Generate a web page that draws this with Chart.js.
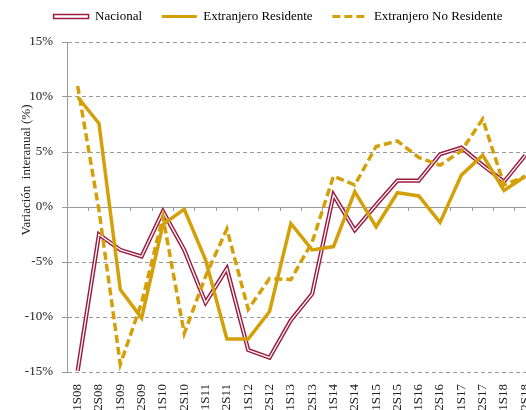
<!DOCTYPE html>
<html>
<head>
<meta charset="utf-8">
<script src="https://cdn.jsdelivr.net/npm/chart.js@4.4.0/dist/chart.umd.min.js"></script>
<style>
  html, body { margin: 0; padding: 0; overflow: hidden; background: #fff; }
  #wrap { width: 576px; height: 410px; }
</style>
</head>
<body>
<div id="wrap"><canvas id="grafico" width="576" height="410"></canvas></div>
<script>
// Semestres (eje X)
const semestres = ['1S08', '2S08', '1S09', '2S09', '1S10', '2S10', '1S11', '2S11', '1S12', '2S12', '1S13',
    '2S13', '1S14', '2S14', '1S15', '2S15', '1S16', '2S16', '1S17', '2S17', '1S18', '2S18'];

// Variacion interanual (%) por tipo de visitante
const nacional = [-14.9, -2.5, -3.9, -4.5, -0.4, -3.9, -8.7, -5.6, -13.0, -13.7, -10.3,
    -7.9, 1.1, -2.1, 0.2, 2.4, 2.4, 4.8, 5.4, 3.8, 2.3, 4.7];
const extResidente = [10.0, 7.6, -7.5, -10.1, -1.6, -0.2, -4.8, -12.0, -12.0, -9.5, -1.5,
    -3.9, -3.6, 1.4, -1.8, 1.3, 1.0, -1.4, 2.9, 4.7, 1.5, 2.8];
const extNoResidente = [11.0, -0.3, -14.3, -8.7, -0.9, -11.5, -6.3, -2.0, -9.3, -6.5, -6.6,
    -3.2, 2.8, 2.0, 5.5, 6.0, 4.5, 3.8, 5.1, 8.0, 2.0, 2.8];

// Escala Y
const yMin = -15;
const yMax = 15;
const yPaso = 5;

const ROJO = '#9c1c40';
const ORO = '#d4a00a';
const GRIS = '#9a9a9a';
const FUENTE = '"Liberation Serif", "Times New Roman", serif';

Chart.defaults.font.family = FUENTE;
Chart.defaults.font.size = 13;
Chart.defaults.color = '#222';

// Titulo del eje Y (desplazado hacia arriba como en el original)
const tituloY = {
    id: 'tituloY',
    afterDraw(chart) {
        const ctx = chart.ctx;
        ctx.save();
        ctx.translate(27, 170);
        ctx.rotate(-Math.PI / 2);
        ctx.font = '13px ' + FUENTE;
        ctx.fillStyle = '#222';
        ctx.textAlign = 'center';
        ctx.textBaseline = 'middle';
        ctx.fillText('Variación  interanual (%)', 0, 0);
        ctx.restore();
    }
};

new Chart(document.getElementById('grafico'), {
    type: 'line',
    data: {
        labels: semestres,
        datasets: [
            {
                label: 'Extranjero Residente',
                data: extResidente,
                xAxisID: 'x',
                borderColor: ORO,
                borderWidth: 3.5,
                order: 1
            },
            {
                label: 'Extranjero No Residente',
                data: extNoResidente,
                xAxisID: 'x',
                borderColor: ORO,
                borderWidth: 3.5,
                borderDash: [8, 4],
                order: 2
            },
            {
                // linea blanca interior para el trazo doble
                label: 'Nacional interior',
                data: nacional,
                xAxisID: 'x',
                borderColor: '#ffffff',
                borderWidth: 1.3,
                order: 3
            },
            {
                label: 'Nacional',
                data: nacional,
                xAxisID: 'x',
                borderColor: ROJO,
                borderWidth: 4.2,
                order: 4
            }
        ]
    },
    options: {
        responsive: false,
        animation: false,
        layout: { padding: { left: 20, right: 40, top: 0, bottom: 0 } },
        elements: {
            point: { radius: 0, hoverRadius: 0 },
            line: { tension: 0, borderCapStyle: 'butt', borderJoinStyle: 'miter' }
        },
        plugins: {
            tooltip: { enabled: false },
            legend: {
                position: 'top',
                labels: {
                    usePointStyle: true,
                    pointStyleWidth: 35,
                    boxHeight: 4,
                    padding: 10,
                    color: '#222',
                    font: { size: 13, family: FUENTE },
                    // espacios al final para separar los elementos como en el original
                    generateLabels: () => [
                        { text: 'Nacional   ', pointStyle: 'rect', fillStyle: '#ffffff', strokeStyle: ROJO,
                          lineWidth: 1.5, lineDash: [], hidden: false, datasetIndex: 3 },
                        { text: 'Extranjero Residente   ', pointStyle: 'line', fillStyle: ORO, strokeStyle: ORO,
                          lineWidth: 3, lineDash: [], hidden: false, datasetIndex: 0 },
                        { text: 'Extranjero No Residente', pointStyle: 'line', fillStyle: ORO, strokeStyle: ORO,
                          lineWidth: 3, lineDash: [8, 4], hidden: false, datasetIndex: 1 }
                    ]
                }
            }
        },
        scales: {
            x: {
                type: 'category',
                position: 'bottom',
                offset: true,
                grid: { display: false },
                border: { display: false },
                ticks: {
                    autoSkip: false,
                    maxRotation: 90,
                    minRotation: 90,
                    padding: 4,
                    color: '#222',
                    font: { size: 13 }
                },
                afterFit: s => { s.height = 38; }
            },
            // eje invisible para dejar aire entre leyenda y grafico
            xTop: {
                type: 'category',
                position: 'top',
                offset: true,
                ticks: { display: false },
                grid: { display: false },
                border: { display: false },
                afterFit: s => { s.height = 9; }
            },
            // marcas del eje en el 0%
            xCero: {
                type: 'category',
                position: { y: 0 },
                offset: true,
                ticks: { display: false },
                border: { display: false },
                grid: {
                    offset: true,
                    drawOnChartArea: false,
                    drawTicks: true,
                    tickLength: 4,
                    tickColor: GRIS,
                    color: GRIS
                }
            },
            y: {
                min: yMin,
                max: yMax,
                ticks: {
                    stepSize: yPaso,
                    padding: 9,
                    color: '#222',
                    font: { size: 13 },
                    callback: v => v + '%'
                },
                grid: {
                    color: GRIS,
                    lineWidth: 1,
                    tickLength: 5,
                    tickColor: GRIS,
                    tickBorderDash: []
                },
                border: {
                    display: true,
                    color: GRIS,
                    width: 1,
                    dash: c => (c.type === 'tick' && c.tick && c.tick.value !== 0) ? [4, 3] : []
                },
                afterFit: s => { s.width = 47; }
            }
        }
    },
    plugins: [tituloY]
});
</script>
</body>
</html>
